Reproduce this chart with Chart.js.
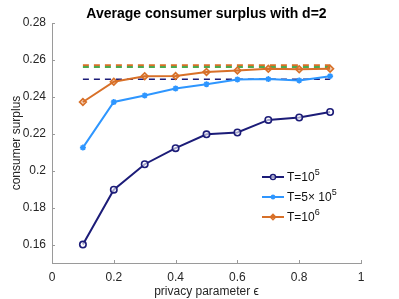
<!DOCTYPE html>
<html>
<head>
<meta charset="utf-8">
<script src="https://cdn.jsdelivr.net/npm/chart.js@4"></script>
<style>
  html, body { margin: 0; padding: 0; background: #fff; }
  #wrap { width: 399px; height: 299px; }
</style>
</head>
<body>
<div id="wrap"><canvas id="c" width="399" height="299"></canvas></div>
<script>
'use strict';

// ── data ────────────────────────────────────────────────────────────────────

const EPS      = [0.1, 0.2, 0.3, 0.4, 0.5, 0.6, 0.7, 0.8, 0.9];
const T1E5     = [0.160, 0.1897, 0.2035, 0.2122, 0.2197, 0.2207, 0.2275, 0.2288, 0.2318];
const T5E5     = [0.2125, 0.2372, 0.2407, 0.2445, 0.2468, 0.2494, 0.2496, 0.2489, 0.2512];
const T1E6     = [0.2372, 0.2482, 0.2512, 0.2513, 0.2535, 0.2543, 0.2552, 0.2549, 0.2552];
const REF_NAVY   = 0.2495;
const REF_GREEN  = 0.2562;
const REF_ORANGE = 0.2572;

const X_TICKS = [0, 0.2, 0.4, 0.6, 0.8, 1];
const Y_TICKS = [0.16, 0.18, 0.2, 0.22, 0.24, 0.26, 0.28];

const TITLE       = 'Average consumer surplus with d=2';
const LEGEND_BASE = ['T=10', 'T=5\u00d7 10', 'T=10'];
const LEGEND_SUP  = ['5', '5', '6'];

const NAVY   = 'rgb(28,28,120)';
const BLUE   = 'rgb(46,150,255)';
const ORANGE = 'rgb(216,112,40)';
const GREEN  = 'rgb(20,140,20)';
const FONT   = '"Liberation Sans", Arial, sans-serif';

const pts  = vals => vals.map((v, i) => ({ x: EPS[i], y: v }));
const flat = v => [{ x: EPS[0], y: v }, { x: EPS[EPS.length - 1], y: v }];

// ── plugins ─────────────────────────────────────────────────────────────────

// MATLAB-style inward tick marks + title centred over the axes
const decor = {
  id: 'decor',
  afterDraw(chart) {
    const { ctx, chartArea: a, scales: { x, y } } = chart;
    ctx.save();
    ctx.strokeStyle = '#9a9a9a';
    ctx.lineWidth = 1;
    ctx.beginPath();
    X_TICKS.forEach(t => {
      const px = Math.round(x.getPixelForValue(t)) + 0.5;
      ctx.moveTo(px, a.bottom); ctx.lineTo(px, a.bottom - 3);
    });
    Y_TICKS.forEach(t => {
      const py = Math.round(y.getPixelForValue(t)) + 0.5;
      ctx.moveTo(a.left, py); ctx.lineTo(a.left + 3, py);
    });
    ctx.stroke();

    ctx.fillStyle = '#000';
    ctx.font = 'bold 14px ' + FONT;
    ctx.textAlign = 'center';
    ctx.textBaseline = 'middle';
    ctx.fillText(TITLE, (a.left + a.right) / 2, 14);
    ctx.restore();
  },
};

// legend inside plot, lower right, no box
const innerLegend = {
  id: 'innerLegend',
  afterDraw(chart) {
    const { ctx, chartArea: a } = chart;
    const x0 = a.right - 99, y0 = a.bottom - 86, step = 20;
    ctx.save();
    [0, 1, 2].forEach(i => {
      const ds = chart.data.datasets[i];
      const yy = y0 + i * step;
      ctx.strokeStyle = ds.borderColor;
      ctx.lineWidth = 2;
      ctx.beginPath(); ctx.moveTo(x0, yy); ctx.lineTo(x0 + 22, yy); ctx.stroke();
      ctx.fillStyle = ds.pointBackgroundColor;
      ctx.lineWidth = 1.4;
      Chart.helpers.drawPoint(ctx, {
        pointStyle: ds.pointStyle, radius: ds.pointRadius * 0.8, borderWidth: 1.4,
      }, x0 + 11, yy);
      ctx.fillStyle = '#111';
      ctx.font = '12px ' + FONT;
      ctx.textBaseline = 'middle';
      ctx.textAlign = 'left';
      const base = LEGEND_BASE[i];
      ctx.fillText(base, x0 + 25, yy + 1);
      const w = ctx.measureText(base).width;
      ctx.font = '9px ' + FONT;
      ctx.fillText(LEGEND_SUP[i], x0 + 25 + w, yy - 4);
    });
    ctx.restore();
  },
};

// ── chart ───────────────────────────────────────────────────────────────────

const series = (label, vals, color, style, radius, fill) => ({
  label, data: pts(vals), borderColor: color, backgroundColor: fill,
  pointBackgroundColor: fill, pointBorderColor: color,
  borderWidth: 2, pointStyle: style, pointRadius: radius, pointBorderWidth: 1.6,
  order: 1,
});
const dashed = (v, color) => ({
  label: '', data: flat(v), borderColor: color, borderWidth: 1.6,
  borderDash: [6, 5], pointRadius: 0, order: 2,
});

new Chart(document.getElementById('c'), {
  type: 'line',
  data: {
    datasets: [
      series('T=10^5', T1E5, NAVY, 'circle', 3.2, 'rgba(255,255,255,0.6)'),
      series('T=5x10^5', T5E5, BLUE, 'star', 3, BLUE),
      series('T=10^6', T1E6, ORANGE, 'rectRot', 3.4, 'rgba(216,112,40,0.35)'),
      dashed(REF_NAVY, NAVY),
      dashed(REF_GREEN, GREEN),
      dashed(REF_ORANGE, ORANGE),
    ],
  },
  options: {
    responsive: false, animation: false,
    layout: { padding: { left: 9, right: 38, top: 23, bottom: 0 } },
    plugins: {
      legend: { display: false },
      tooltip: { enabled: false },
      title: { display: false },
    },
    scales: {
      x: {
        type: 'linear', min: 0, max: 1,
        afterBuildTicks: s => { s.ticks = X_TICKS.map(v => ({ value: v })); },
        afterFit: s => { s.height = 36; },
        ticks: { color: '#262626', font: { family: FONT, size: 12 }, padding: 7,
                 callback: v => String(+v.toFixed(2)) },
        grid: { display: false, drawTicks: false },
        border: { display: true, color: '#9a9a9a', width: 1 },
        title: { display: true, text: 'privacy parameter \u03f5', color: '#262626',
                 font: { family: FONT, size: 12 }, padding: { top: 2, bottom: 0 } },
      },
      y: {
        min: 0.15, max: 0.28,
        afterBuildTicks: s => { s.ticks = Y_TICKS.map(v => ({ value: v })); },
        afterFit: s => { s.width = 43; },
        ticks: { color: '#262626', font: { family: FONT, size: 12 }, padding: 6,
                 callback: v => String(+v.toFixed(2)) },
        grid: { display: false, drawTicks: false },
        border: { display: true, color: '#9a9a9a', width: 1 },
        title: { display: true, text: 'consumer surplus', color: '#262626',
                 font: { family: FONT, size: 12 }, padding: { top: 0, bottom: 0 } },
      },
    },
  },
  plugins: [decor, innerLegend],
});
</script>
</body>
</html>
